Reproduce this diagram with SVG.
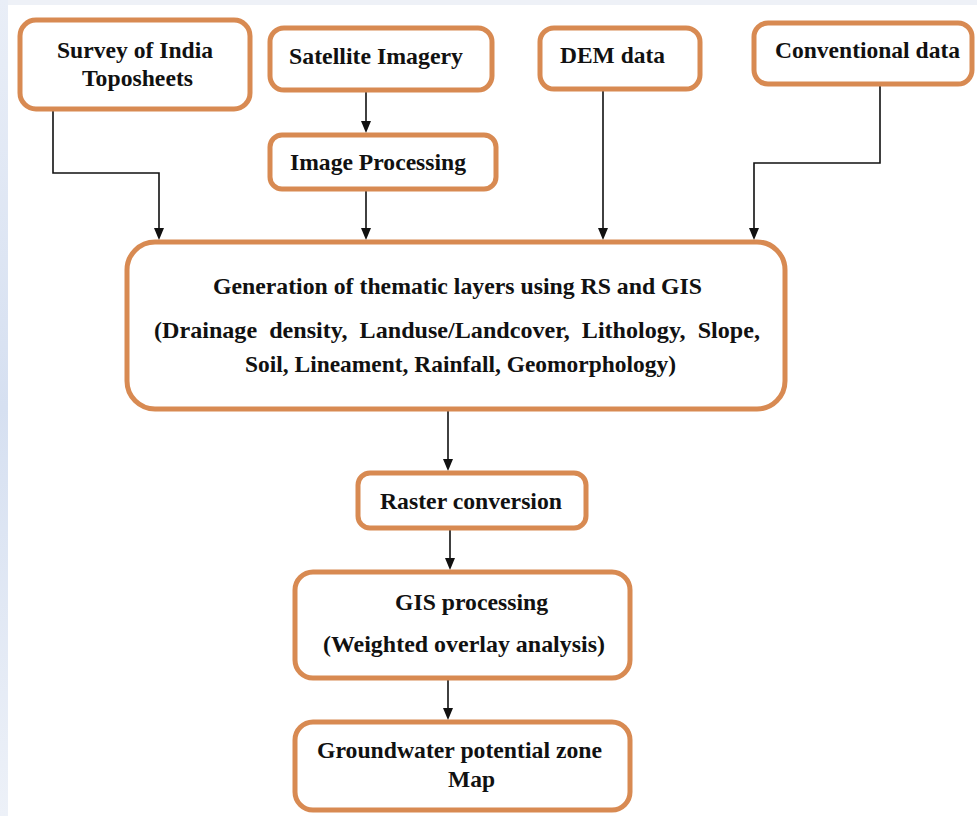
<svg xmlns="http://www.w3.org/2000/svg" width="977" height="816" viewBox="0 0 977 816">
<style>
.box{fill:#fff;stroke:#D88A52;stroke-width:5}
.t{font-family:"Liberation Serif","Times New Roman",serif;font-weight:bold;font-size:23px;fill:#111}
.c{fill:none;stroke:#111;stroke-width:1.6}
.h{fill:#111}
</style>
<defs>
<linearGradient id="lg" x1="0" y1="0" x2="0" y2="1">
<stop offset="0" stop-color="#E9EEF7"/>
<stop offset="0.5" stop-color="#D6E0F1"/>
<stop offset="1" stop-color="#EDF1F8"/>
</linearGradient>
</defs>
<rect width="977" height="816" fill="#fff"/>
<rect x="0" y="0" width="977" height="5" fill="#EEF1F7"/>
<rect x="0" y="0" width="8" height="816" fill="url(#lg)"/>

<g id="connectors">
<path class="c" d="M53,110 V173 H159 V230"/>
<path class="h" d="M154,228 L164,228 L159,240 Z"/>
<path class="c" d="M366,91 V125"/>
<path class="h" d="M361,121 L371,121 L366,133 Z"/>
<path class="c" d="M366,190 V230"/>
<path class="h" d="M361,228 L371,228 L366,240 Z"/>
<path class="c" d="M603,89 V230"/>
<path class="h" d="M598,228 L608,228 L603,240 Z"/>
<path class="c" d="M880,84 V163 H754 V230"/>
<path class="h" d="M749,228 L759,228 L754,240 Z"/>
<path class="c" d="M448,410 V462"/>
<path class="h" d="M443,459 L453,459 L448,471 Z"/>
<path class="c" d="M450,529 V562"/>
<path class="h" d="M445,558 L455,558 L450,570 Z"/>
<path class="c" d="M448,679 V712"/>
<path class="h" d="M443,708 L453,708 L448,720 Z"/>
</g>

<g id="survey">
<rect class="box" x="20" y="20" width="230" height="89" rx="16"/>
<text class="t" x="57" y="58" textLength="156" lengthAdjust="spacingAndGlyphs">Survey of India</text>
<text class="t" x="82" y="86" textLength="111" lengthAdjust="spacingAndGlyphs">Toposheets</text>
</g>
<g id="satellite">
<rect class="box" x="270" y="28" width="222" height="62" rx="14"/>
<text class="t" x="289" y="64" textLength="174" lengthAdjust="spacingAndGlyphs">Satellite Imagery</text>
</g>
<g id="imageproc">
<rect class="box" x="270" y="135" width="226" height="54" rx="12"/>
<text class="t" x="290" y="170" textLength="176" lengthAdjust="spacingAndGlyphs">Image Processing</text>
</g>
<g id="dem">
<rect class="box" x="540" y="28" width="160" height="61" rx="14"/>
<text class="t" x="560" y="63" textLength="105" lengthAdjust="spacingAndGlyphs">DEM data</text>
</g>
<g id="conventional">
<rect class="box" x="754" y="23" width="218" height="61" rx="14"/>
<text class="t" x="775" y="58" textLength="185" lengthAdjust="spacingAndGlyphs">Conventional data</text>
</g>
<g id="generation">
<rect class="box" x="127" y="242" width="658" height="167" rx="28"/>
<text class="t" x="213" y="294" textLength="489" lengthAdjust="spacingAndGlyphs">Generation of thematic layers using RS and GIS</text>
<text class="t" x="154" y="338" textLength="606" lengthAdjust="spacingAndGlyphs" style="white-space:pre">(Drainage  density,  Landuse/Landcover,  Lithology,  Slope,</text>
<text class="t" x="245" y="372" textLength="431" lengthAdjust="spacingAndGlyphs">Soil, Lineament, Rainfall, Geomorphology)</text>
</g>
<g id="raster">
<rect class="box" x="358" y="473" width="228" height="55" rx="12"/>
<text class="t" x="380" y="509" textLength="182" lengthAdjust="spacingAndGlyphs">Raster conversion</text>
</g>
<g id="gis">
<rect class="box" x="295" y="572" width="335" height="106" rx="18"/>
<text class="t" x="395" y="610" textLength="153" lengthAdjust="spacingAndGlyphs">GIS processing</text>
<text class="t" x="323" y="652" textLength="282" lengthAdjust="spacingAndGlyphs">(Weighted overlay analysis)</text>
</g>
<g id="groundwater">
<rect class="box" x="295" y="722" width="335" height="88" rx="18"/>
<text class="t" x="317" y="758" textLength="285" lengthAdjust="spacingAndGlyphs">Groundwater potential zone</text>
<text class="t" x="448" y="787" textLength="47" lengthAdjust="spacingAndGlyphs">Map</text>
</g>
</svg>
